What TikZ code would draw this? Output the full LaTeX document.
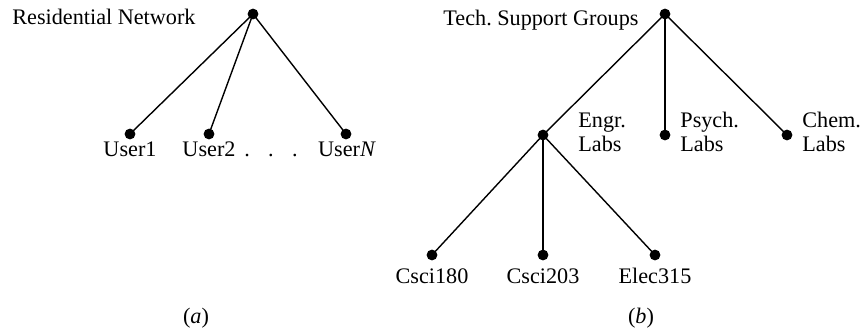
\documentclass[tikz,border=0pt]{standalone}
\usepackage{fontspec}
\setmainfont{Liberation Serif}
\frenchspacing
\begin{document}
\begin{tikzpicture}[x=0.5pt,y=-0.5pt,
  dot/.style={circle,fill=black,inner sep=0pt,minimum size=5.4pt},
  lbl/.style={inner sep=0pt,font=\fontsize{11.1pt}{12pt}\selectfont},
  edge/.style={line width=0.7pt}]
\useasboundingbox (0,0) rectangle (867,330);
% (a)
\node[dot] (r) at (253,14) {};
\node[dot] (u1) at (130,134) {};
\node[dot] (u2) at (209,134) {};
\node[dot] (un) at (346,134) {};
\draw[edge] (r.center) -- (u1.center);
\draw[edge] (r.center) -- (u2.center);
\draw[edge] (r.center) -- (un.center);
\node[lbl,anchor=base west] (rl) at (12,25) {Residential Network};
\node[lbl,anchor=base] (u1l) at (130,157) {User1};
\node[lbl,anchor=base] (u2l) at (209,157) {User2};
\node[lbl,anchor=base] (dl) at (271,157) {.\hspace{0.83em}.\hspace{0.83em}.};
\node[lbl,anchor=base] (unl) at (347,157) {User\textit{N}};
\node[lbl,anchor=base] (ca) at (196,324) {(\textit{a})};
% (b)
\node[dot] (t) at (665,14) {};
\node[dot] (e) at (543,135) {};
\node[dot] (p) at (665,135) {};
\node[dot] (c) at (787,135) {};
\node[dot] (c1) at (432,255) {};
\node[dot] (c2) at (543,255) {};
\node[dot] (c3) at (655,255) {};
\draw[edge] (t.center) -- (e.center);
\draw[edge] (t.center) -- (p.center);
\draw[edge] (t.center) -- (c.center);
\draw[edge] (e.center) -- (c1.center);
\draw[edge] (e.center) -- (c2.center);
\draw[edge] (e.center) -- (c3.center);
\node[lbl,anchor=base west] (tl) at (443,26) {Tech. Support Groups};
\node[lbl,anchor=base west,align=left] (el) at (578,152) {Engr.\\Labs};
\node[lbl,anchor=base west,align=left] (pl) at (680,152) {Psych.\\Labs};
\node[lbl,anchor=base west,align=left] (cl) at (802,152) {Chem.\\Labs};
\node[lbl,anchor=base] (c1l) at (432,284) {Csci180};
\node[lbl,anchor=base] (c2l) at (543,284) {Csci203};
\node[lbl,anchor=base] (c3l) at (655,284) {Elec315};
\node[lbl,anchor=base] (cb) at (641,324) {(\textit{b})};
\end{tikzpicture}
\end{document}
